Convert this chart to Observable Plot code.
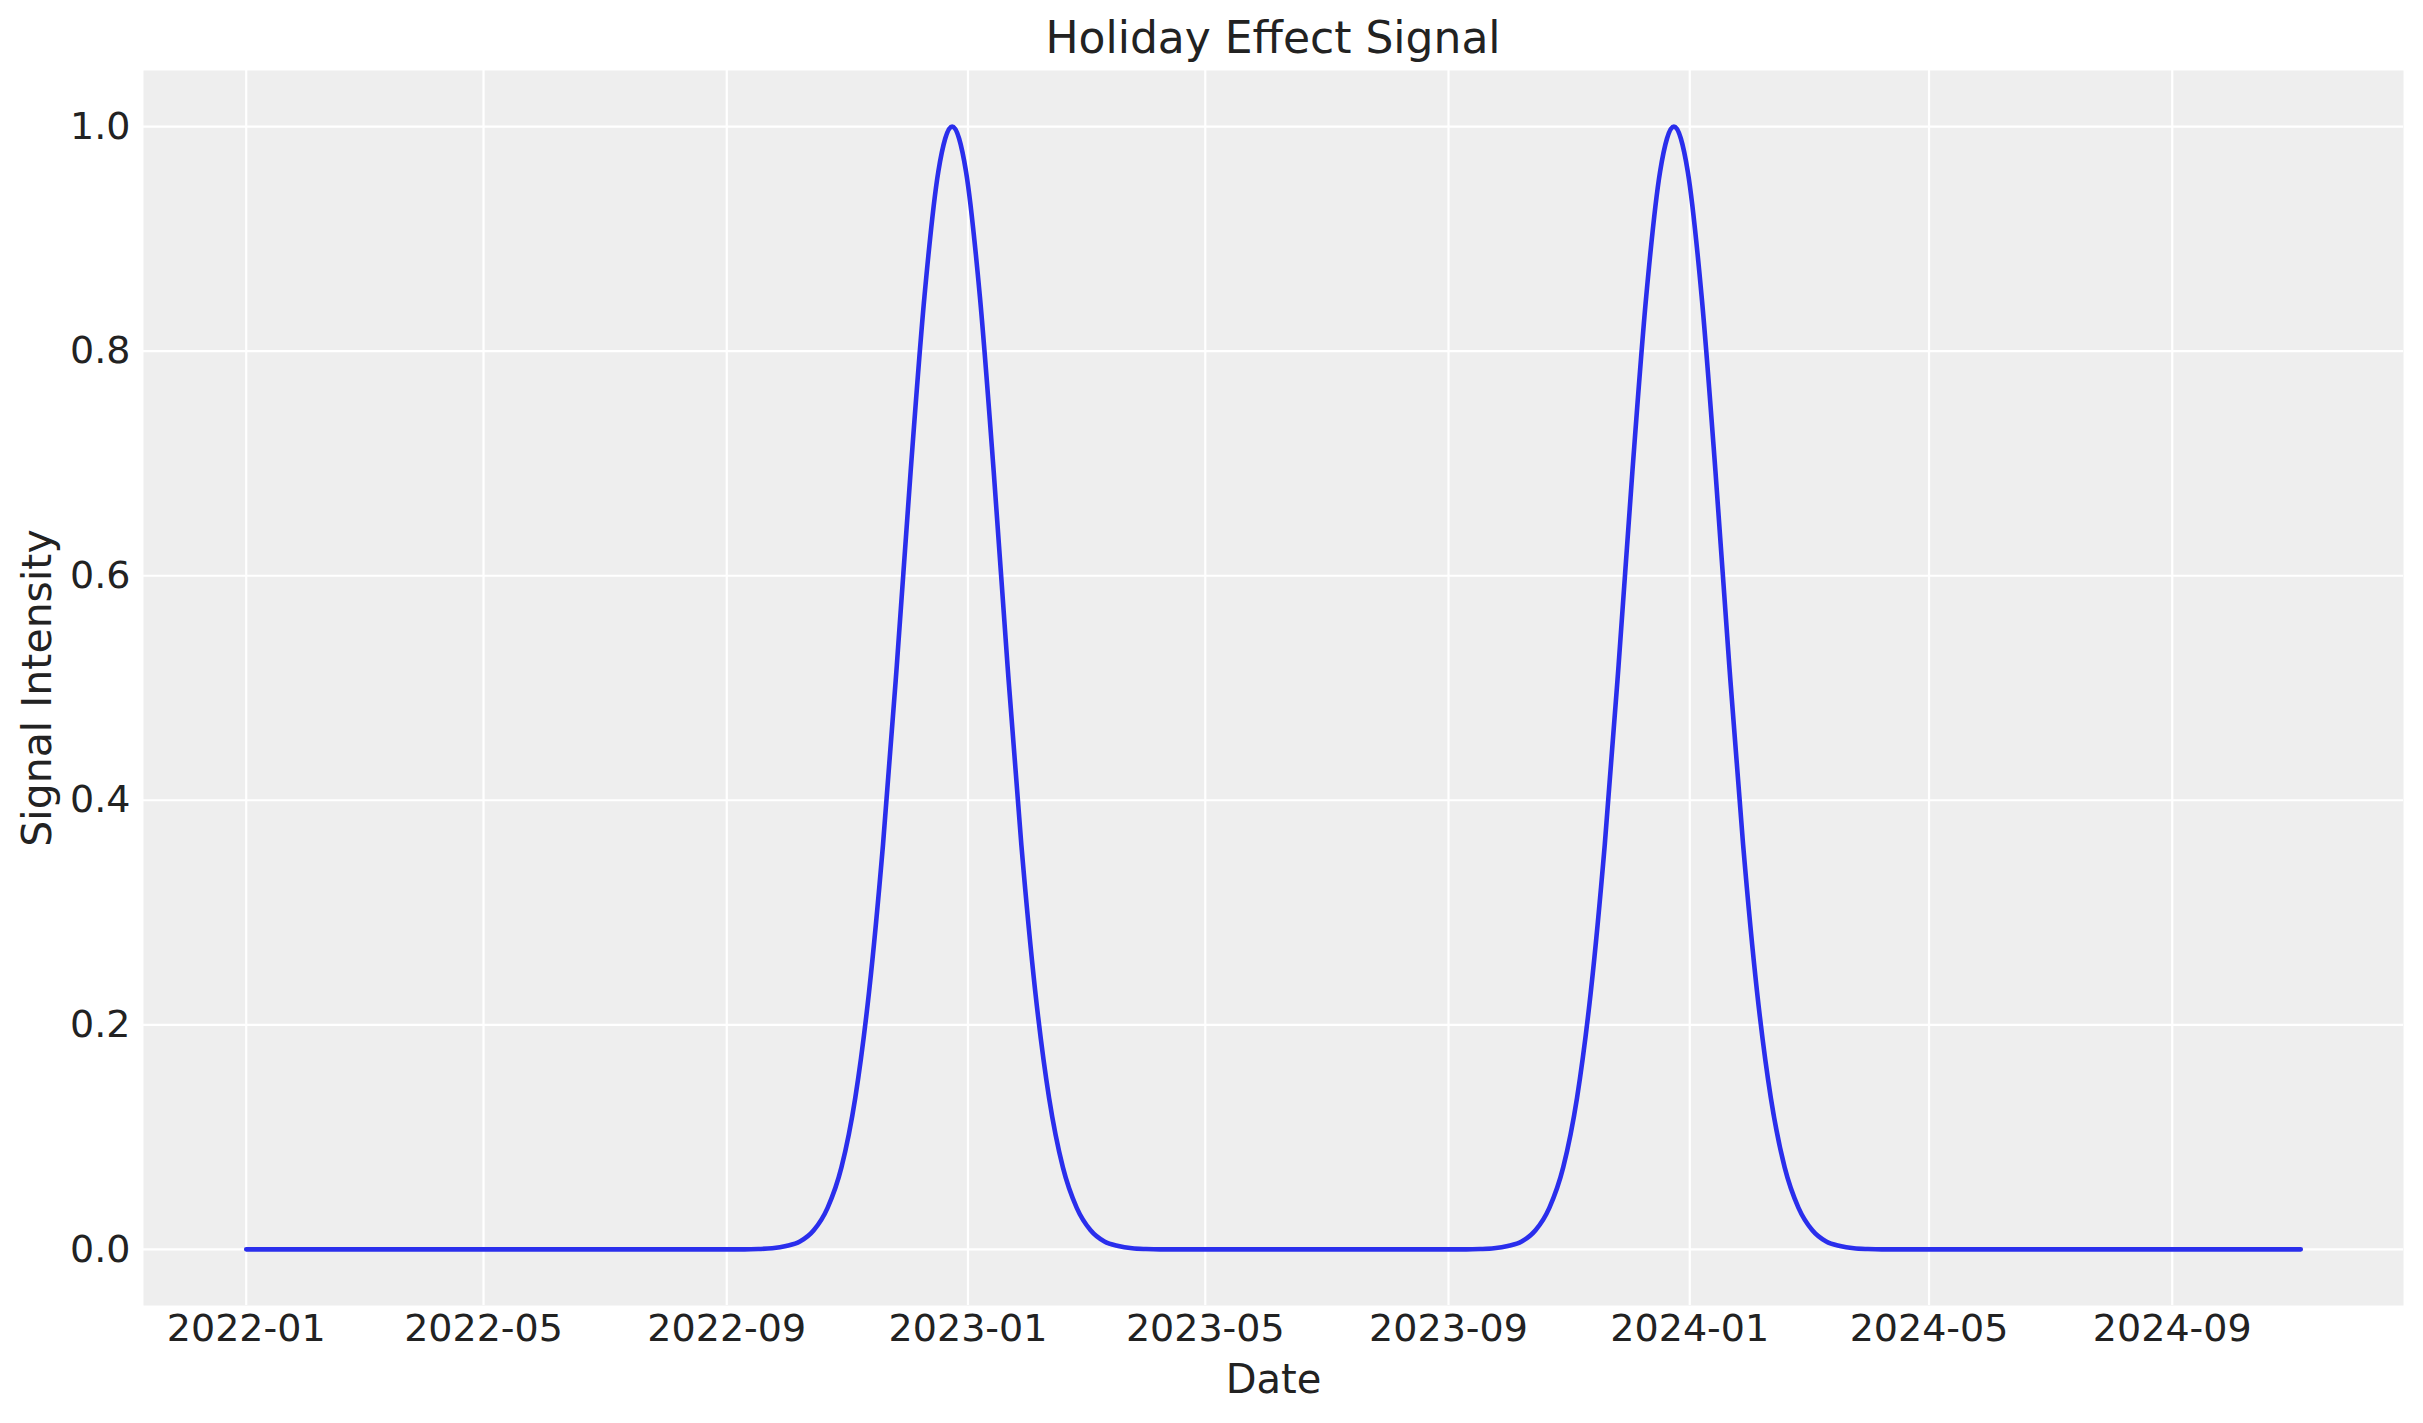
<!DOCTYPE html>
<html>
<head>
<meta charset="utf-8">
<script src="https://cdn.jsdelivr.net/npm/d3@7"></script>
<script src="https://cdn.jsdelivr.net/npm/@observablehq/plot@0.6"></script>
<style>
  html, body { margin: 0; padding: 0; background: #ffffff; }
  body { width: 2423px; height: 1423px; overflow: hidden; font-family: "DejaVu Sans", sans-serif; }
  #title { height: 70px; margin-left: 143px; width: 2260px; text-align: center; font-size: 44px; color: #222222; line-height: 76px; white-space: nowrap; }
  svg { display: block; }
</style>
</head>
<body>
<div id="title">Holiday Effect Signal</div>
<div id="chart"></div>
<script>
// Sampled readings of the signal (date, intensity)
const dates = [
  "2022-01-01",
  "2022-09-10","2022-09-17","2022-09-24","2022-10-01","2022-10-08","2022-10-15","2022-10-22","2022-10-29",
  "2022-11-05","2022-11-12","2022-11-19","2022-11-26","2022-12-03","2022-12-10","2022-12-17","2022-12-24",
  "2022-12-31","2023-01-07","2023-01-14","2023-01-21","2023-01-28","2023-02-04","2023-02-11","2023-02-18",
  "2023-02-25","2023-03-04","2023-03-11","2023-03-18","2023-03-25","2023-04-01","2023-04-08",
  "2023-09-10","2023-09-17","2023-09-24","2023-10-01","2023-10-08","2023-10-15","2023-10-22","2023-10-29",
  "2023-11-05","2023-11-12","2023-11-19","2023-11-26","2023-12-03","2023-12-10","2023-12-17","2023-12-24",
  "2023-12-31","2024-01-07","2024-01-14","2024-01-21","2024-01-28","2024-02-04","2024-02-11","2024-02-18",
  "2024-02-25","2024-03-03","2024-03-10","2024-03-17","2024-03-24","2024-03-31","2024-04-07",
  "2024-11-05"
];
const signal = [
  0,
  0, 0.0003, 0.001, 0.003, 0.007, 0.017, 0.037, 0.073,
  0.135, 0.230, 0.360, 0.520, 0.693, 0.849, 0.960, 1.000,
  0.960, 0.849, 0.693, 0.520, 0.360, 0.230, 0.135, 0.073,
  0.037, 0.017, 0.007, 0.003, 0.001, 0.0003, 0,
  0, 0.0003, 0.001, 0.003, 0.007, 0.017, 0.037, 0.073,
  0.135, 0.230, 0.360, 0.520, 0.693, 0.849, 0.960, 1.000,
  0.960, 0.849, 0.693, 0.520, 0.360, 0.230, 0.135, 0.073,
  0.037, 0.017, 0.007, 0.003, 0.001, 0.0003, 0,
  0
];
const xTickLabels = ["2022-01","2022-05","2022-09","2023-01","2023-05","2023-09","2024-01","2024-05","2024-09"];
const yTicks = [0.0, 0.2, 0.4, 0.6, 0.8, 1.0];

const parse = d3.utcParse("%Y-%m-%d");
const rows = dates.map((d, i) => ({date: parse(d), value: signal[i]}));
const xTicks = xTickLabels.map(s => d3.utcParse("%Y-%m")(s));

const start = rows[0].date, end = rows[rows.length - 1].date;
const span = end - start;
const xDomain = [new Date(+start - 0.05 * span), new Date(+end + 0.05 * span)];

const textColor = "#222222";
const chart = Plot.plot({
  width: 2423,
  height: 1353,
  marginTop: 0,
  marginLeft: 143,
  marginRight: 20,
  marginBottom: 118,
  style: {fontFamily: "DejaVu Sans", color: textColor, background: "#ffffff"},
  x: {type: "utc", domain: xDomain},
  y: {domain: [-0.05, 1.05]},
  marks: [
    Plot.frame({fill: "#eeeeee", stroke: null}),
    Plot.gridX(xTicks, {stroke: "#ffffff", strokeOpacity: 1, strokeWidth: 2.2}),
    Plot.gridY(yTicks, {stroke: "#ffffff", strokeOpacity: 1, strokeWidth: 2.2}),
    Plot.axisX(xTicks, {tickSize: 0, tickPadding: 9, fontSize: 38, tickFormat: d3.utcFormat("%Y-%m"), label: null, fill: textColor}),
    Plot.axisY(yTicks, {tickSize: 0, tickPadding: 13, fontSize: 38, tickFormat: d3.format(".1f"), label: null, fill: textColor}),
    Plot.lineY(rows, {x: "date", y: "value", stroke: "#2a2eec", strokeWidth: 4.6, curve: "monotone-x"}),
    Plot.text(["Date"], {frameAnchor: "bottom", dy: 75, fontSize: 40, lineAnchor: "middle", textAnchor: "middle", fill: textColor}),
    Plot.text(["Signal Intensity"], {frameAnchor: "left", dx: -106, rotate: -90, fontSize: 41, lineAnchor: "middle", textAnchor: "middle", fill: textColor})
  ]
});
document.getElementById("chart").appendChild(chart);
</script>
</body>
</html>
